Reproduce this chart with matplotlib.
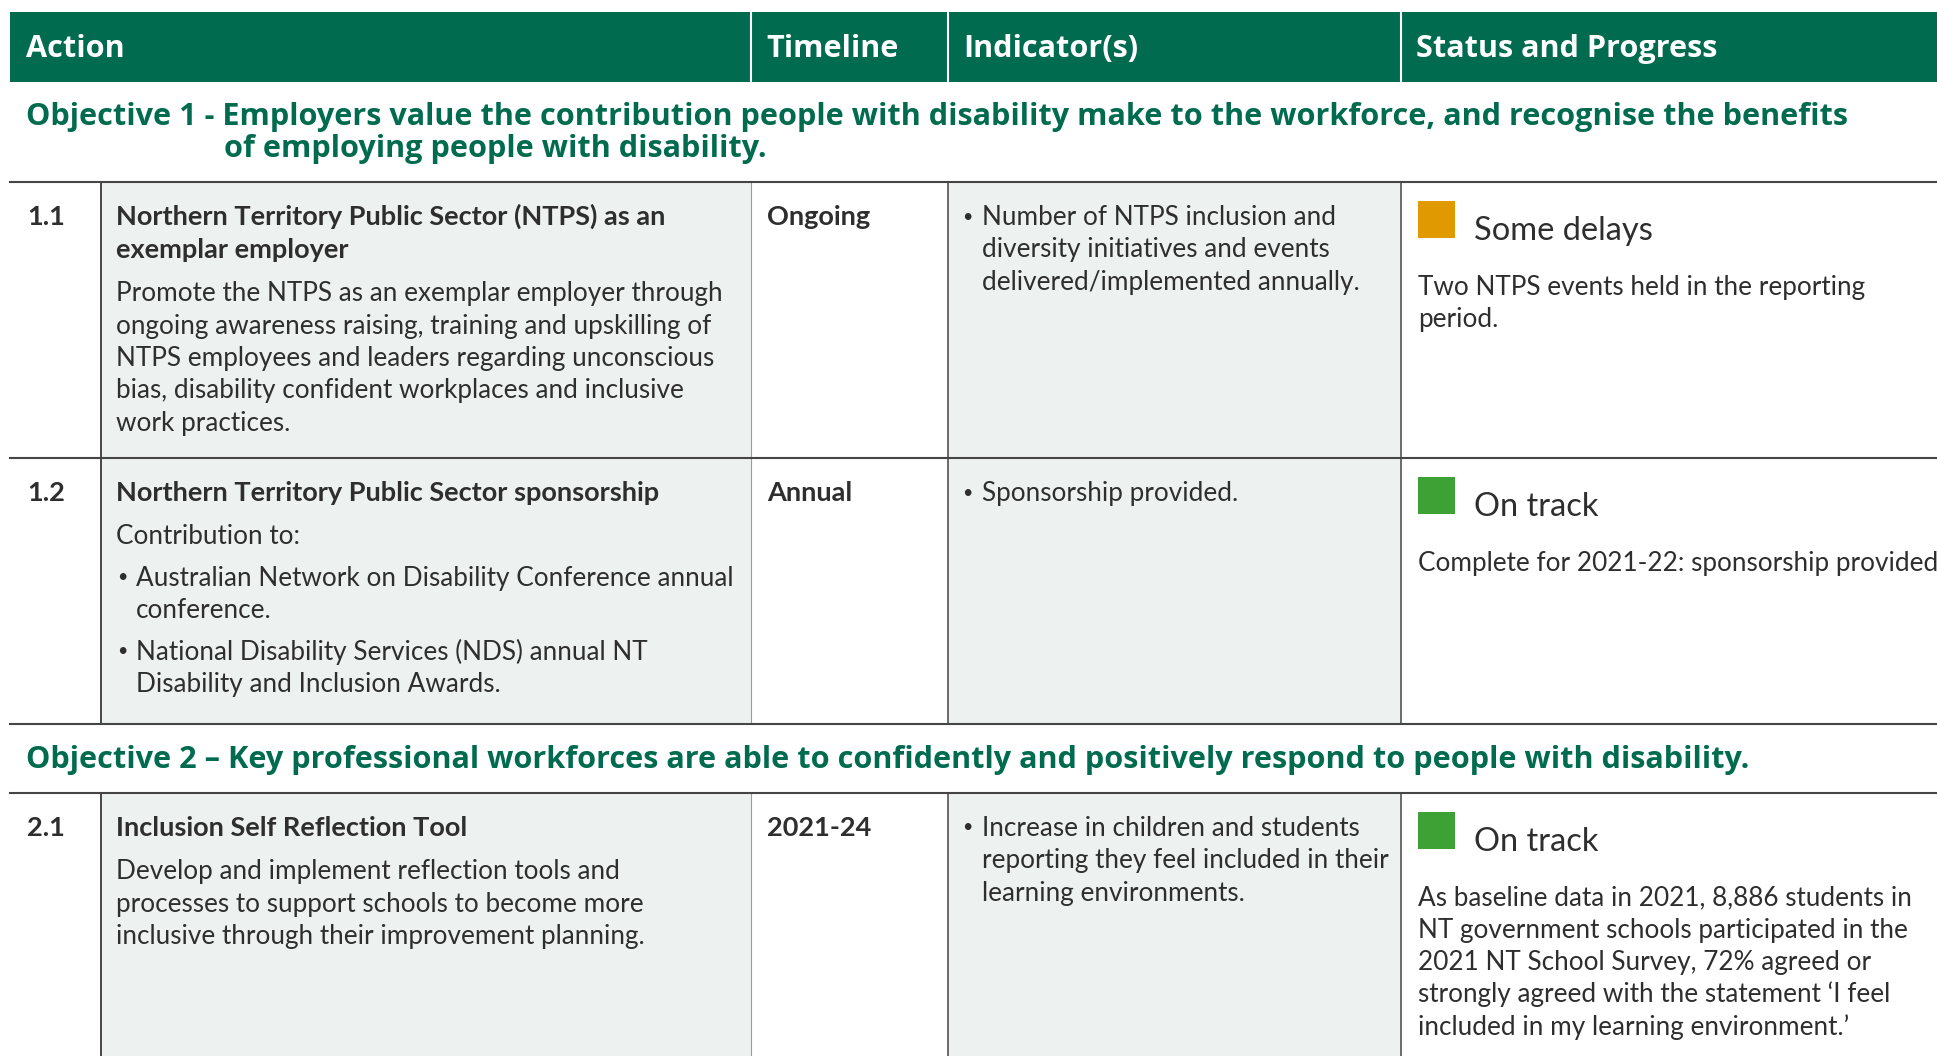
import matplotlib
matplotlib.use('Agg')
import matplotlib.pyplot as plt
from matplotlib.patches import Rectangle

# colours
GREEN = '#006b4f'
SHADE = '#edf2f0'
INK = '#2e2e2e'
RULE = '#454545'
AMBER = '#e09a00'
ONTRACK = '#3ea135'

# table content
headers = ['Action', 'Timeline', 'Indicator(s)', 'Status and Progress']
objective_1 = ['Objective 1 - Employers value the contribution people with disability make to the workforce, and recognise the benefits',
               'of employing people with disability.']
objective_2 = ['Objective 2 \u2013 Key professional workforces are able to confidently and positively respond to people with disability.']

row_ids = ['1.1', '1.2', '2.1']
row_titles = [['Northern Territory Public Sector (NTPS) as an', 'exemplar employer'],
              ['Northern Territory Public Sector sponsorship'],
              ['Inclusion Self Reflection Tool']]
# each body is a list of paragraphs: (is_bullet, lines)
row_bodies = [
    [(False, ['Promote the NTPS as an exemplar employer through',
              'ongoing awareness raising, training and upskilling of',
              'NTPS employees and leaders regarding unconscious',
              'bias, disability confident workplaces and inclusive',
              'work practices.'])],
    [(False, ['Contribution to:']),
     (True, ['Australian Network on Disability Conference annual', 'conference.']),
     (True, ['National Disability Services (NDS) annual NT', 'Disability and Inclusion Awards.'])],
    [(False, ['Develop and implement reflection tools and',
              'processes to support schools to become more',
              'inclusive through their improvement planning.'])],
]
timelines = ['Ongoing', 'Annual', '2021-24']
indicators = [['Number of NTPS inclusion and', 'diversity initiatives and events', 'delivered/implemented annually.'],
              ['Sponsorship provided.'],
              ['Increase in children and students', 'reporting they feel included in their', 'learning environments.']]
status_labels = ['Some delays', 'On track', 'On track']
status_colours = [AMBER, ONTRACK, ONTRACK]
status_notes = [['Two NTPS events held in the reporting', 'period.'],
                ['Complete for 2021-22: sponsorship provided.'],
                ['As baseline data in 2021, 8,886 students in',
                 'NT government schools participated in the',
                 '2021 NT School Survey, 72% agreed or',
                 'strongly agreed with the statement \u2018I feel',
                 'included in my learning environment.\u2019']]

# layout (pixels)
W, H = 1937, 1056
LEFT = 10
COLS = [101, 751, 948, 1401]
ROWS = [(182, 458), (458, 724), (793, 1056)]
LH = 32.3      # line height
PGAP = 43      # paragraph step
BODY = 18.8
BOLD = 19.5
HEAD = 22.1
FONT = 'Lato'
HFONT = 'Open Sans'

fig = plt.figure(figsize=(W / 100, H / 100), dpi=100)
ax = fig.add_axes([0, 0, 1, 1])
ax.set_xlim(0, W)
ax.set_ylim(H, 0)
ax.axis('off')


def txt(x, yc, s, size=BODY, weight='normal', color=INK):
    # yc = visual centre of cap height
    ax.text(x, yc + 9.5, s, fontsize=size, fontweight=weight,
            color=color, family=FONT, va='baseline', ha='left')


def bullet(x, yc):
    ax.text(x, yc + 1, '\u2022', fontsize=13, color=INK, family=FONT, va='center', ha='left')


# header band
ax.add_patch(Rectangle((LEFT, 12), W - LEFT, 70, color=GREEN, lw=0))
for cx in COLS[1:]:
    ax.plot([cx, cx], [12, 82], color='white', lw=1.5)
for hx, h in zip([26, 766, 963, 1416], headers):
    ax.text(hx, 57, h, fontsize=HEAD, fontweight='bold', color='white', family=HFONT, va='baseline')

# objectives
ax.text(26, 125, objective_1[0], fontsize=HEAD, fontweight='bold', color=GREEN, family=HFONT, va='baseline')
ax.text(224, 157, objective_1[1], fontsize=HEAD, fontweight='bold', color=GREEN, family=HFONT, va='baseline')
ax.text(26, 768, objective_2[0], fontsize=HEAD, fontweight='bold', color=GREEN, family=HFONT, va='baseline')

# rows
for i, (top, bot) in enumerate(ROWS):
    ax.add_patch(Rectangle((COLS[0], top), COLS[1] - COLS[0], bot - top, color=SHADE, lw=0))
    ax.add_patch(Rectangle((COLS[2], top), COLS[3] - COLS[2], bot - top, color=SHADE, lw=0))
    for cx, c, w in zip(COLS, [RULE, '#9a9a9a', RULE, RULE], [1.4, 0.8, 1.1, 1.1]):
        ax.plot([cx, cx], [top, bot], color=c, lw=w)

    y0 = top + 33.5
    txt(27, y0, row_ids[i], size=BOLD, weight='bold')
    y = y0
    for line in row_titles[i]:
        txt(116, y, line, size=BOLD, weight='bold')
        y += LH + 0.7
    y += PGAP - LH - 0.2
    for is_bullet, lines in row_bodies[i]:
        for k, line in enumerate(lines):
            if is_bullet:
                if k == 0:
                    bullet(117, y)
                txt(136, y, line)
            else:
                txt(116, y, line)
            y += LH
        y += PGAP - LH - 1.5

    txt(767, y0, timelines[i], size=BOLD, weight='bold')

    for k, line in enumerate(indicators[i]):
        if k == 0:
            bullet(962, y0)
        txt(982, y0 + k * LH, line)

    ax.add_patch(Rectangle((1418, top + 19), 37, 37, color=status_colours[i], lw=0))
    ax.text(1474, top + 58, status_labels[i], fontsize=23.5, color=INK, family=FONT, va='baseline')
    for k, line in enumerate(status_notes[i]):
        txt(1418, top + 103 + k * LH, line)

# horizontal rules
for yy in [182, 458, 724, 793]:
    ax.plot([LEFT, W], [yy, yy], color=RULE, lw=1.5)

fig.savefig('out.png', dpi=100)
